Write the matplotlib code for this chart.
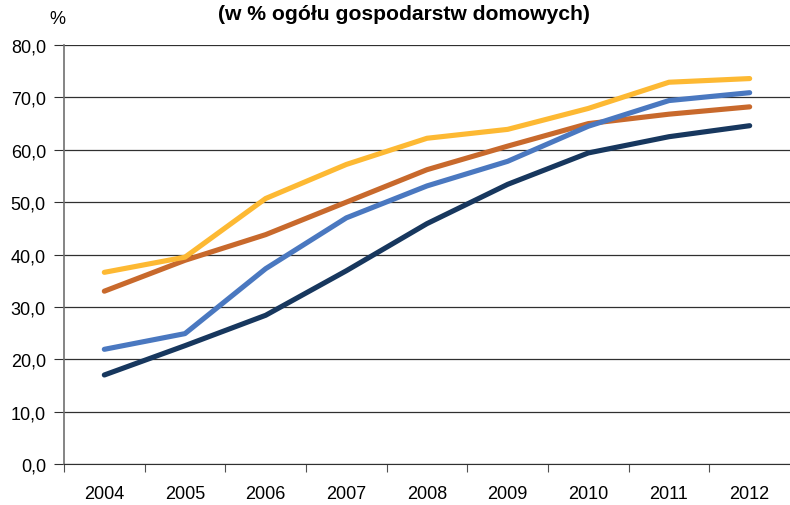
import matplotlib
matplotlib.use("Agg")
import matplotlib.pyplot as plt
from matplotlib.ticker import FuncFormatter

# data
years = ["2004", "2005", "2006", "2007", "2008", "2009", "2010", "2011", "2012"]
yellow_vals = [36.6, 39.5, 50.7, 57.2, 62.2, 63.9, 67.9, 72.9, 73.6]
orange_vals = [33.0, 38.9, 43.8, 50.0, 56.2, 60.7, 65.0, 66.8, 68.2]
blue_vals = [21.9, 24.9, 37.3, 47.0, 53.1, 57.8, 64.5, 69.4, 70.9]
navy_vals = [17.0, 22.6, 28.4, 36.9, 45.9, 53.4, 59.4, 62.5, 64.6]

plt.rcParams['font.family'] = ['Liberation Sans', 'DejaVu Sans']

fig = plt.figure(figsize=(7.9, 5.06), dpi=100)
ax = fig.add_axes([0.081, 0.081, 0.919, 0.828])

x = list(range(len(years)))
for vals, col in [(orange_vals, "#C8692C"), (yellow_vals, "#FDB933"),
                  (blue_vals, "#4A78C0"), (navy_vals, "#17375E")]:
    ax.plot(x, vals, color=col, lw=3.7, solid_capstyle="round",
            solid_joinstyle="round", zorder=3)

ax.set_xlim(-0.5, len(years) - 0.5)
ax.set_ylim(0, 80)
ax.set_yticks(range(0, 81, 10))
ax.yaxis.set_major_formatter(FuncFormatter(lambda v, p: f"{v:.1f}".replace(".", ",")))
ax.grid(axis="y", color="#303030", lw=0.9, zorder=1)

# category axis: ticks on boundaries, labels centred
ax.set_xticks([i - 0.5 for i in range(len(years))])
ax.set_xticklabels([])
ax.set_xticks(x, minor=True)
ax.set_xticklabels(years, minor=True)
ax.tick_params(axis="x", which="minor", length=0, pad=15, labelsize=13)
ax.tick_params(axis="x", which="major", length=6, color="#505050")
ax.tick_params(axis="y", length=7, color="#303030", labelsize=13, pad=6)

for s in ["top", "right"]:
    ax.spines[s].set_visible(False)
ax.spines["left"].set_color("#707070")
ax.spines["bottom"].set_color("#303030")
ax.spines["left"].set_linewidth(1.2)

fig.text(0.511, 0.972, "(w % ogółu gospodarstw domowych)", ha="center", va="center",
         fontsize=15.2, fontweight="bold")
fig.text(0.073, 0.962, "%", ha="center", va="center", fontsize=13)

fig.savefig("out.png", dpi=100)
